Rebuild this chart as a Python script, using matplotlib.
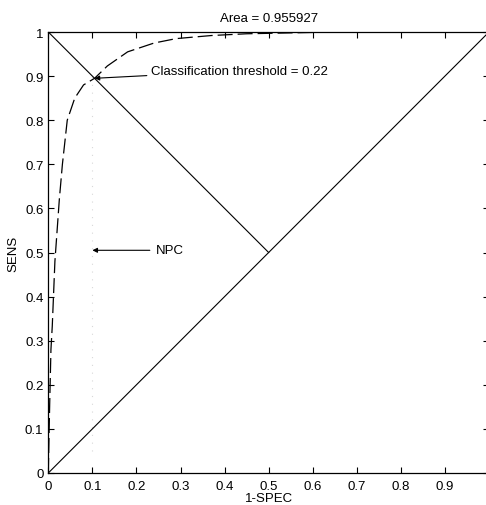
import matplotlib
matplotlib.use("Agg")
import matplotlib.pyplot as plt

# ROC curve values
fpr = [0.0, 0.003, 0.006, 0.009, 0.015, 0.025, 0.032, 0.043, 0.06, 0.08, 0.105, 0.134, 0.18, 0.24, 0.29, 0.37, 0.45, 0.55, 0.65, 0.8, 1.0]
tpr = [0.0, 0.15, 0.28, 0.333, 0.48, 0.62, 0.70, 0.80, 0.85, 0.88, 0.895, 0.923, 0.955, 0.975, 0.985, 0.992, 0.996, 0.998, 1.0, 1.0, 1.0]

chance_x = [0, 1]
chance_y = [0, 1]
anti_x = [0, 0.5]
anti_y = [1, 0.5]

thr_point = (0.105, 0.895)
thr_text = "Classification threshold = 0.22"
npc_point = (0.1, 0.505)
npc_text = "NPC"
area_title = "Area = 0.955927"

xticks = [0, 0.1, 0.2, 0.3, 0.4, 0.5, 0.6, 0.7, 0.8, 0.9, 1]
yticks = [0, 0.1, 0.2, 0.3, 0.4, 0.5, 0.6, 0.7, 0.8, 0.9, 1]
ticklabels = ["0", "0.1", "0.2", "0.3", "0.4", "0.5", "0.6", "0.7", "0.8", "0.9", "1"]

plt.rcParams['font.family'] = ['Liberation Sans', 'DejaVu Sans']
FS = 9.5

fig = plt.figure(figsize=(4.86, 5.06), dpi=100)
W, H = 486, 506
x0, x1 = 48.3, 489.0
y0, y1 = 474.0, 33.0
ax = fig.add_axes([x0 / W, (H - y0) / H, (x1 - x0) / W, (y0 - y1) / H])

ax.plot([0.1, 0.1], [0.05, 0.9], color='#d8d8d8', lw=0.8, linestyle=(0, (1, 6)))
ax.plot(fpr, tpr, color='black', lw=0.9, linestyle=(0, (12, 4)))
ax.plot(chance_x, chance_y, color='black', lw=0.8)
ax.plot(anti_x, anti_y, color='black', lw=0.8)

ax.annotate(thr_text, xy=thr_point, xytext=(0.233, 0.912),
            fontsize=FS, va='center', ha='left',
            arrowprops=dict(arrowstyle='-|>', color='black', lw=0.8,
                            mutation_scale=7, shrinkA=1, shrinkB=0))
ax.annotate(npc_text, xy=npc_point, xytext=(0.243, 0.505),
            fontsize=FS, va='center', ha='left',
            arrowprops=dict(arrowstyle='-|>', color='black', lw=0.8,
                            mutation_scale=7, shrinkA=2, shrinkB=0))

ax.set_xlim(0, 1)
ax.set_ylim(0, 1)
ax.set_xticks(xticks)
ax.set_xticklabels(ticklabels)
ax.set_yticks(yticks)
ax.set_yticklabels(ticklabels)
ax.tick_params(direction='in', length=4, width=0.8, labelsize=FS,
               top=True, right=True)
ax.tick_params(axis='x', pad=5)
ax.tick_params(axis='y', pad=3.5)
for s in ax.spines.values():
    s.set_linewidth(0.9)

ax.set_title(area_title, fontsize=FS, pad=8)
ax.set_xlabel("1-SPEC", fontsize=FS, labelpad=0)
ax.set_ylabel("SENS", fontsize=FS, labelpad=4)

fig.savefig("out.png", dpi=100)
